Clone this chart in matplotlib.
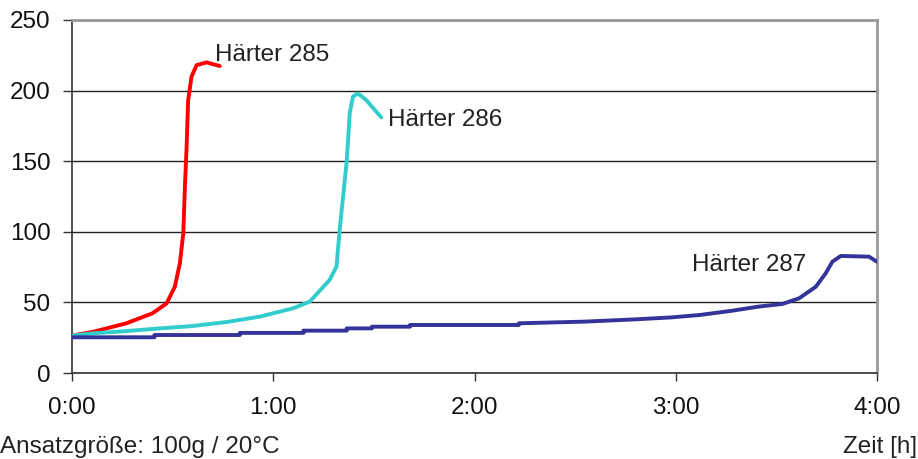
"""Härter-Vergleich: Temperaturverlauf über die Zeit (Ansatz 100g / 20°C)."""
import matplotlib
matplotlib.use("Agg")
import matplotlib.pyplot as plt
from matplotlib.ticker import FuncFormatter, MultipleLocator

plt.rcParams["font.family"] = ["Liberation Sans", "DejaVu Sans"]

# Zeit in Stunden
t_285 = [0.0, 0.106, 0.27, 0.40, 0.47, 0.511, 0.536, 0.553, 0.561, 0.569,
         0.577, 0.594, 0.619, 0.668, 0.734]
y_285 = [26.5, 29.2, 35.2, 42.3, 49.3, 61.1, 77.7, 98.9, 132, 158,
         193, 210, 218, 220, 217.4]

t_286 = [0.0, 0.106, 0.27, 0.437, 0.60, 0.768, 0.933, 1.098, 1.181, 1.28,
         1.314, 1.33, 1.347, 1.364, 1.372, 1.38, 1.396, 1.421, 1.462, 1.537]
y_286 = [26.5, 28.1, 29.7, 31.6, 33.3, 36.1, 39.9, 45.8, 50.5, 65.9,
         75.3, 101.3, 124.9, 148.5, 165, 183.9, 195.7, 198, 193.3, 181]

t_287 = [0.0, 0.41, 0.41, 0.834, 0.834, 1.15, 1.15, 1.365, 1.365, 1.49,
         1.49, 1.68, 1.68, 2.22, 2.22, 2.55, 2.80, 2.98, 3.12, 3.28,
         3.41, 3.53, 3.613, 3.696, 3.745, 3.778, 3.82, 3.96, 4.0]
y_287 = [25.3, 25.3, 26.9, 26.9, 28.4, 28.4, 30.0, 30.0, 31.6, 31.6,
         32.8, 32.8, 34.0, 34.0, 35.2, 36.4, 38.0, 39.4, 41.1, 44.1,
         47.0, 48.9, 52.9, 61.1, 70.6, 78.8, 82.9, 82.4, 78.8]

series = [
    (t_285, y_285, "#FF0000", "Härter 285", (0.71, 225)),
    (t_286, y_286, "#33CCCC", "Härter 286", (1.568, 179)),
    (t_287, y_287, "#333399", "Härter 287", (3.08, 76.5)),
]

FS = 17.5
W, H = 918, 459
fig = plt.figure(figsize=(W / 100, H / 100), dpi=100)
ax = fig.add_axes([72 / W, (H - 373) / H, (877 - 72) / W, (373 - 20) / H])

for t, y, color, label, (lx, ly) in series:
    ax.plot(t, y, color=color, lw=2.8, solid_joinstyle="round",
            solid_capstyle="round", zorder=3)
    ax.text(lx, ly, label, fontsize=FS, color="#222222",
            ha="left", va="center")

ax.set_xlim(0, 4)
ax.set_ylim(0, 250)
ax.xaxis.set_major_locator(MultipleLocator(1))
ax.yaxis.set_major_locator(MultipleLocator(50))
ax.xaxis.set_major_formatter(FuncFormatter(lambda v, p: f"{int(round(v))}:00"))

ax.grid(axis="y", color="#222222", lw=1.0, zorder=1)
for side in ("top", "right"):
    ax.spines[side].set_color("#999999")
    ax.spines[side].set_linewidth(2.0)
for side in ("left", "bottom"):
    ax.spines[side].set_color("#333333")
    ax.spines[side].set_linewidth(1.2)

ax.tick_params(axis="y", length=6.5, width=1.0, color="#333333",
               labelsize=FS, labelcolor="#111111", pad=9)
ax.tick_params(axis="x", length=6, width=1.0, color="#333333",
               labelsize=FS, labelcolor="#111111", pad=11)

fig.text(0.0, 1 - 447 / H, "Ansatzgröße: 100g / 20°C", fontsize=FS,
         color="#222222", ha="left", va="center")
fig.text(917 / W, 1 - 447 / H, "Zeit [h]", fontsize=FS,
         color="#222222", ha="right", va="center")

fig.savefig("out.png", dpi=100)
plt.close(fig)
